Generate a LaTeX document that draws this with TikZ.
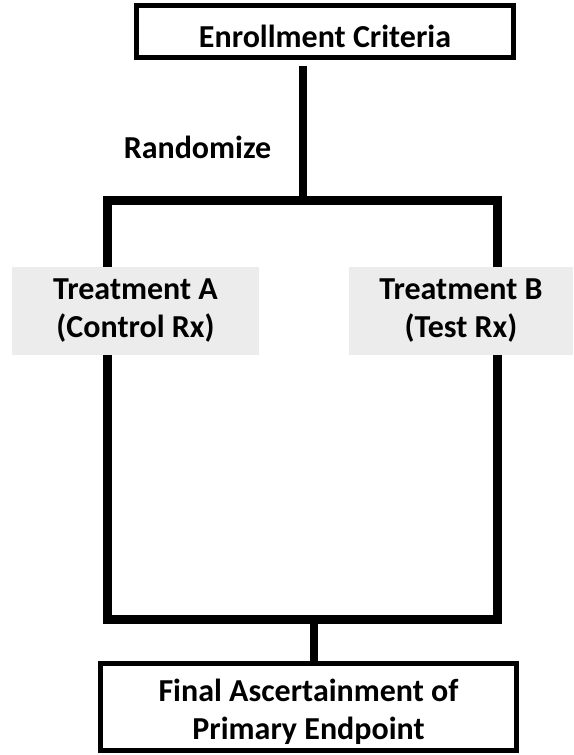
\documentclass[tikz,border=0pt]{standalone}
\usepackage{fontspec}
\setmainfont{Carlito}

\begin{document}
\begin{tikzpicture}[x=1pt,y=-1pt,font=\fontsize{32}{38}\selectfont\bfseries,
  box/.style={draw,line width=5pt,inner sep=0pt,align=center},
  arm/.style={fill=gray!15,inner sep=0pt,align=center,minimum height=88pt},
  trunk/.style={line width=9pt},
  stem/.style={line width=8pt}]
\useasboundingbox (0,0) rectangle (573,755);
% boxes and labels
\node[box,minimum width=377pt,minimum height=52pt,text height=32pt,text depth=0pt] (enroll) at (325,31.5) {Enrollment Criteria};
\node[anchor=base] (rand) at (197.5,158) {Randomize};
\node[arm,minimum width=247pt] (treatA) at (135.5,311) {Treatment A\\(Control Rx)};
\node[arm,minimum width=224pt] (treatB) at (461,311) {Treatment B\\(Test Rx)};
\node[box,minimum width=416pt,minimum height=87pt] (final) at (308.5,707) {\rule{0pt}{1em}Final Ascertainment of\\Primary Endpoint};
% branch points
\coordinate (split) at (303,200);
\coordinate (topA) at (107,200);
\coordinate (topB) at (497,200);
\coordinate (join) at (313.5,619);
\coordinate (botA) at (107,619);
\coordinate (botB) at (497,619);
% connectors
\draw[stem,shorten <=6pt] (enroll.south -| split) -- (split);
\draw[trunk] (treatA.north -| topA) -- (topA) -- (topB) -- (treatB.north -| topB);
\draw[trunk] (treatA.south -| botA) -- (botA) -- (botB) -- (treatB.south -| botB);
\draw[stem] (join) -- (final.north -| join);
\end{tikzpicture}
\end{document}
